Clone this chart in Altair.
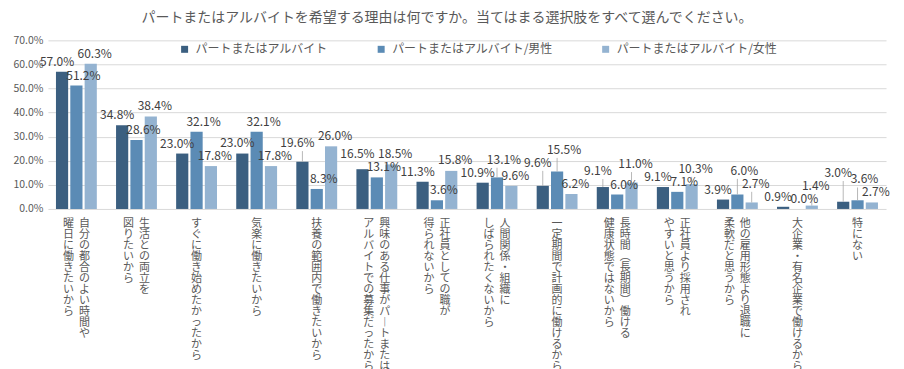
import altair as alt
import pandas as pd

# ---- data ----
category_lines = [
    ["自分の都合のよい時間や", "曜日に働きたいから"],
    ["生活との両立を", "図りたいから"],
    ["すぐに働き始めたかったから"],
    ["気楽に働きたいから"],
    ["扶養の範囲内で働きたいから"],
    ["興味のある仕事がパートまたは", "アルバイトでの募集だったから"],
    ["正社員としての職が", "得られないから"],
    ["人間関係・組織に", "しばられたくないから"],
    ["一定期間で計画的に働けるから"],
    ["長時間（長期間）働ける", "健康状態ではないから"],
    ["正社員より採用され", "やすいと思うから"],
    ["他の雇用形態より退職に", "柔軟だと思うから"],
    ["大企業・有名企業で働けるから"],
    ["特にない"],
]
categories = ["".join(l) for l in category_lines]
series = ["パートまたはアルバイト", "パートまたはアルバイト/男性", "パートまたはアルバイト/女性"]
total = [57.0, 34.8, 23.0, 23.0, 19.6, 16.5, 11.3, 10.9, 9.6, 9.1, 9.1, 3.9, 0.9, 3.0]
male = [51.2, 28.6, 32.1, 32.1, 8.3, 13.1, 3.6, 13.1, 15.5, 6.0, 7.1, 6.0, 0.0, 3.6]
female = [60.3, 38.4, 17.8, 17.8, 26.0, 18.5, 15.8, 9.6, 6.2, 11.0, 10.3, 2.7, 1.4, 2.7]
y_ticks = [0.0, 0.1, 0.2, 0.3, 0.4, 0.5, 0.6, 0.7]
title_text = "パートまたはアルバイトを希望する理由は何ですか。当てはまる選択肢をすべて選んでください。"
colors = ["#3b5f80", "#5b8bb5", "#94b3d1"]

# ---- layout constants ----
W, H = 840, 169
PAD_IN, PAD_OUT, OFF_PAD = 0.32, 0.134, 0.15
Y_MAX = 0.7
LABEL_DX = [-5, 7, 4]
LABEL_H = 13
LABEL_GAP = 3
CHAR_W = 6.4

px_per_unit = H / Y_MAX
step = W / (len(categories) - PAD_IN + 2 * PAD_OUT)
off_step = step * (1 - PAD_IN) / (3 - OFF_PAD)

rows = []
for ci, (c, a, b, d) in enumerate(zip(categories, total, male, female)):
    for sj, (s, v) in enumerate(zip(series, (a, b, d))):
        txt = f"{v:.1f}%"
        cx = ci * step + (sj - 1) * off_step + LABEL_DX[sj]
        rows.append({"category": c, "series": s, "value": v / 100, "txt": txt,
                     "x0": cx - len(txt) * CHAR_W / 2, "x1": cx + len(txt) * CHAR_W / 2,
                     "base": v / 100 * px_per_unit + LABEL_GAP})

# simple upward collision avoidance for value labels (derived from the values)
placed = []
for r in sorted(rows, key=lambda r: r["base"]):
    y = r["base"]
    moved = True
    while moved:
        moved = False
        for p in placed:
            if min(r["x1"], p["x1"]) - max(r["x0"], p["x0"]) > 0 and y < p["y"] + LABEL_H and p["y"] < y + LABEL_H:
                y = p["y"] + LABEL_H
                moved = True
    r["y"] = y
    placed.append(r)
for r in rows:
    r["label_y"] = r["y"] / px_per_unit
    r["leader"] = (r["y"] - r["base"]) > 5
    r["rule_y2"] = (r["y"] - 1) / px_per_unit
bars_df = pd.DataFrame(rows)

label_rows = []
for c, lines in zip(categories, category_lines):
    n = len(lines)
    for i, t in enumerate(lines):
        pos = "single" if n == 1 else ("right" if i == 0 else "left")
        label_rows.append({"category": c, "line": t, "pos": pos})
label_df = pd.DataFrame(label_rows)

FONT = "Noto Sans CJK JP"
TXT = "#595959"

xscale = alt.Scale(domain=categories, paddingInner=PAD_IN, paddingOuter=PAD_OUT)
yscale = alt.Scale(domain=[0, Y_MAX], nice=False)
y_axis = alt.Axis(
    values=y_ticks, format=".1%", title=None, domain=False, ticks=False,
    grid=True, gridColor="#d9d9d9", labelFontSize=10.5, labelColor=TXT,
    labelFont=FONT, labelPadding=5, labelOverlap=False,
)
x_enc = alt.X("category:N", sort=categories, scale=xscale, axis=None)
xoff = alt.XOffset("series:N", sort=series, scale=alt.Scale(domain=series, paddingInner=OFF_PAD))

bars = alt.Chart(bars_df).mark_bar().encode(
    x=x_enc,
    xOffset=xoff,
    y=alt.Y("value:Q", scale=yscale, axis=y_axis),
    color=alt.Color(
        "series:N", sort=series,
        scale=alt.Scale(domain=series, range=colors),
        legend=alt.Legend(
            title=None, orient="none", legendX=131, legendY=3, direction="horizontal",
            symbolType="square", symbolSize=49, symbolStrokeWidth=0,
            labelFontSize=12, labelColor=TXT, labelFont=FONT, columnPadding=47,
            labelOffset=5, padding=0, labelLimit=300,
        ),
    ),
)

leaders = alt.Chart(bars_df).transform_filter(alt.datum.leader).mark_rule(
    color="#a6a6a6", strokeWidth=0.8
).encode(x=x_enc, xOffset=xoff, y=alt.Y("value:Q", scale=yscale, axis=y_axis), y2="rule_y2:Q")

layers = [bars, leaders]
for sj, s in enumerate(series):
    layers.append(
        alt.Chart(bars_df).transform_filter(alt.datum.series == s)
        .mark_text(baseline="bottom", dx=LABEL_DX[sj], fontSize=12, color="#404040", font=FONT)
        .encode(x=x_enc, xOffset=xoff, y=alt.Y("label_y:Q", scale=yscale, axis=y_axis), text="txt:N")
    )

split_expr = "split(replace(replace(replace(datum.line,'ー','︱'),'（','︵'),'）','︶'), '')"
for pos, dx in (("right", 8), ("left", -8), ("single", 0)):
    layers.append(
        alt.Chart(label_df).transform_filter(alt.datum.pos == pos)
        .transform_calculate(chars=split_expr, zero="0")
        .mark_text(baseline="top", align="center", dx=dx, dy=9, fontSize=11,
                   lineHeight=11, color=TXT, font=FONT)
        .encode(x=alt.X("category:N", sort=categories),
                y=alt.Y("zero:Q", scale=yscale, axis=y_axis), text="chars:N")
    )

chart = alt.layer(*layers).properties(
    width=W, height=H,
    title=alt.TitleParams(title_text, fontSize=14, fontWeight="normal", color=TXT,
                          font=FONT, anchor="middle", dx=-20, offset=10),
    padding={"left": 40, "top": 32, "right": 10, "bottom": 160},
    autosize=alt.AutoSizeParams(type="none"),
).configure_view(stroke=None)

chart.save("out.html", embed_options={"renderer": "svg", "actions": False})
